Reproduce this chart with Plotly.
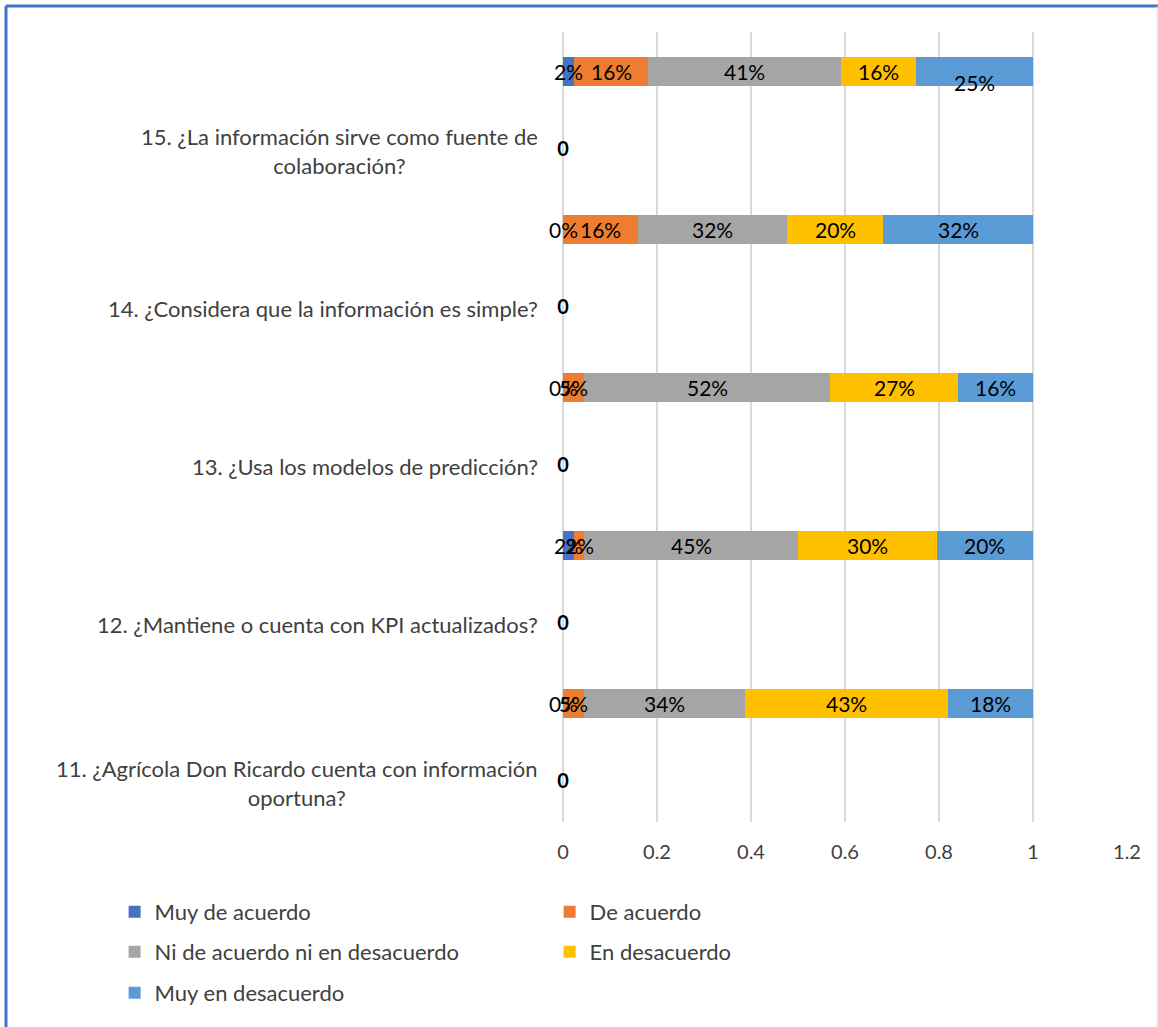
import plotly.graph_objects as go

# Survey questions (bottom to top) and the share of answers per option
questions = [
    "11. ¿Agrícola Don Ricardo cuenta con información<br>oportuna?",
    "12. ¿Mantiene o cuenta con KPI actualizados?",
    "13. ¿Usa los modelos de predicción?",
    "14. ¿Considera que la información es simple?",
    "15. ¿La información sirve como fuente de<br>colaboración?",
]
series_names = [
    "Muy de acuerdo",
    "De acuerdo",
    "Ni de acuerdo ni en desacuerdo",
    "En desacuerdo",
    "Muy en desacuerdo",
]
muy_de_acuerdo = [0.0, 0.0227, 0.0, 0.0, 0.0227]
de_acuerdo = [0.0455, 0.0227, 0.0455, 0.1591, 0.1591]
ni_de_acuerdo_ni_en_desacuerdo = [0.3409, 0.4545, 0.5227, 0.3182, 0.4091]
en_desacuerdo = [0.4318, 0.2955, 0.2727, 0.2045, 0.1591]
muy_en_desacuerdo = [0.1818, 0.2045, 0.1591, 0.3182, 0.25]
# empty rows carrying the question labels
question_row_values = [0, 0, 0, 0, 0]

x_ticks = [0, 0.2, 0.4, 0.6, 0.8, 1, 1.2]
x_tick_labels = ["0", "0.2", "0.4", "0.6", "0.8", "1", "1.2"]

series_values = [muy_de_acuerdo, de_acuerdo, ni_de_acuerdo_ni_en_desacuerdo,
                 en_desacuerdo, muy_en_desacuerdo]
colors = ["#4472C4", "#ED7D31", "#A5A5A5", "#FFC000", "#5B9BD5"]
legend_ids = ["legend", "legend", "legend2", "legend2", "legend3"]

FONT = "Lato"
FS_NUM = 20   # axis ticks and zero-row labels
FS_LBL = 21   # percentage labels on the bars
FS_TXT = 22   # question labels and legend
TEXT = "#404040"

question_rows = [2 * i for i in range(len(questions))]
bar_rows = [2 * i + 1 for i in range(len(questions))]

fig = go.Figure()
for name, vals, color, leg in zip(series_names, series_values, colors, legend_ids):
    fig.add_trace(go.Bar(
        y=bar_rows, x=vals, orientation="h", name=name,
        marker=dict(color=color, line=dict(width=0)),
        width=0.36, legend=leg, hoverinfo="skip",
    ))

# "0" labels of the empty question rows
fig.add_trace(go.Scatter(
    x=question_row_values, y=question_rows, mode="text",
    text=[f"{v}" for v in question_row_values],
    textfont=dict(family=FONT, size=FS_NUM, color="#000000", weight="bold"),
    showlegend=False, hoverinfo="skip", cliponaxis=False,
))

annotations = []
# per-label vertical nudges (series index, question index) -> px
label_shift = {(4, 4): -11}
for q in range(len(questions)):
    start = 0.0
    for s, vals in enumerate(series_values):
        v = vals[q]
        annotations.append(dict(
            x=start + v / 2, y=bar_rows[q], xref="x", yref="y",
            text=f"{round(v * 100)}%", showarrow=False,
            xanchor="center", yanchor="middle",
            yshift=label_shift.get((s, q), 0),
            font=dict(family=FONT, size=FS_LBL, color="#000000"),
        ))
        start += v

for q, label in enumerate(questions):
    annotations.append(dict(
        x=-0.041, y=question_rows[q], xref="paper", yref="y",
        text=label, showarrow=False, xanchor="right", yanchor="middle",
        align="center", font=dict(family=FONT, size=FS_TXT, color=TEXT),
    ))

# outer frame of the chart area
L, T, B, R = -0.9876, 1.0329, -0.2595, 1.0532
shapes = [
    dict(type="line", xref="paper", yref="paper", x0=L, x1=L, y0=B - 0.01, y1=T,
         line=dict(color="#4472C4", width=3)),
    dict(type="line", xref="paper", yref="paper", x0=L, x1=R + 0.01, y0=T, y1=T,
         line=dict(color="#4472C4", width=3)),
    dict(type="line", xref="paper", yref="paper", x0=R, x1=R, y0=B - 0.01, y1=T,
         line=dict(color="#D6DCE5", width=1)),
]

legend_common = dict(
    orientation="h", xanchor="left", yanchor="middle", traceorder="normal",
    font=dict(family=FONT, size=FS_TXT, color=TEXT),
    entrywidth=390, entrywidthmode="pixels",
    bgcolor="rgba(0,0,0,0)", borderwidth=0,
)

fig.update_layout(
    width=1158, height=1027,
    margin=dict(l=563, r=31, t=32, b=205),
    paper_bgcolor="white", plot_bgcolor="white",
    barmode="stack", bargap=0,
    font=dict(family=FONT, size=FS_NUM, color=TEXT),
    xaxis=dict(
        range=[0, 1.2], tickvals=x_ticks, ticktext=x_tick_labels,
        showgrid=True, gridcolor="#D9D9D9", gridwidth=1.5,
        zeroline=True, zerolinecolor="#D9D9D9", zerolinewidth=1.5,
        showline=False, ticks="", ticklabelstandoff=16,
        tickfont=dict(family=FONT, size=FS_NUM, color=TEXT),
    ),
    yaxis=dict(
        range=[-0.5, 9.5], showgrid=False, zeroline=False,
        showticklabels=False, ticks="", showline=False,
    ),
    legend=dict(x=-0.795, y=-0.1139, **legend_common),
    legend2=dict(x=-0.795, y=-0.1646, **legend_common),
    legend3=dict(x=-0.795, y=-0.2165, **legend_common),
    annotations=annotations,
    shapes=shapes,
)

fig.write_html("out.html")
